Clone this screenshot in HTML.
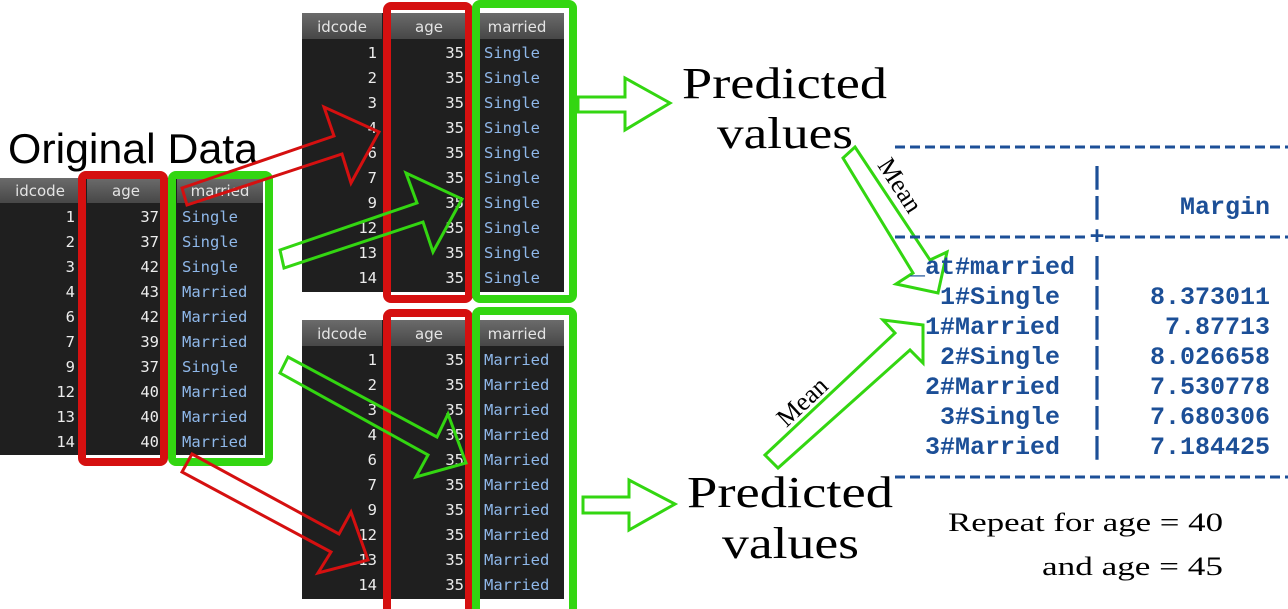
<!DOCTYPE html>
<html><head><meta charset="utf-8"><style>
html,body{margin:0;padding:0;background:#fff;}
svg{display:block;}
.h{font-family:"DejaVu Sans","Liberation Sans",sans-serif;font-size:15px;fill:#e4e4e4;text-anchor:middle;}
.n{font-family:"DejaVu Sans Mono","Liberation Mono",monospace;font-size:15.5px;fill:#ececec;text-anchor:end;}
.s{font-family:"DejaVu Sans Mono","Liberation Mono",monospace;font-size:15.5px;fill:#8fb8ea;}
.st{font-family:"Liberation Mono",monospace;font-weight:bold;font-size:25px;fill:#1c4f97;}
.sr{font-family:"Liberation Serif",serif;fill:#000;}
</style></head><body>
<svg width="1288" height="609" viewBox="0 0 1288 609" xmlns="http://www.w3.org/2000/svg">
<defs>
<linearGradient id="hg" x1="0" y1="0" x2="0" y2="1"><stop offset="0" stop-color="#6b6b6b"/><stop offset="1" stop-color="#474747"/></linearGradient>
</defs>

<!-- Original table -->
<rect x="0" y="178" width="263" height="277" fill="#1f1f1f"/>
<rect x="0" y="178" width="83" height="25" fill="url(#hg)"/>
<rect x="87" y="178" width="78" height="25" fill="url(#hg)"/>
<rect x="177" y="178" width="86" height="25" fill="url(#hg)"/>
<text class="h" x="40" y="196">idcode</text><text class="h" x="126" y="196">age</text><text class="h" x="220" y="196">married</text>
<g>
<text class="n" x="75" y="222">1</text><text class="n" x="159" y="222">37</text><text class="s" x="182" y="222">Single</text>
<text class="n" x="75" y="247">2</text><text class="n" x="159" y="247">37</text><text class="s" x="182" y="247">Single</text>
<text class="n" x="75" y="272">3</text><text class="n" x="159" y="272">42</text><text class="s" x="182" y="272">Single</text>
<text class="n" x="75" y="297">4</text><text class="n" x="159" y="297">43</text><text class="s" x="182" y="297">Married</text>
<text class="n" x="75" y="322">6</text><text class="n" x="159" y="322">42</text><text class="s" x="182" y="322">Married</text>
<text class="n" x="75" y="347">7</text><text class="n" x="159" y="347">39</text><text class="s" x="182" y="347">Married</text>
<text class="n" x="75" y="372">9</text><text class="n" x="159" y="372">37</text><text class="s" x="182" y="372">Single</text>
<text class="n" x="75" y="397">12</text><text class="n" x="159" y="397">40</text><text class="s" x="182" y="397">Married</text>
<text class="n" x="75" y="422">13</text><text class="n" x="159" y="422">40</text><text class="s" x="182" y="422">Married</text>
<text class="n" x="75" y="447">14</text><text class="n" x="159" y="447">40</text><text class="s" x="182" y="447">Married</text>
</g>
<rect x="82" y="175" width="82" height="287" rx="4" fill="none" stroke="#d51010" stroke-width="8"/>
<rect x="172" y="175" width="97" height="287" rx="4" fill="none" stroke="#33d611" stroke-width="8"/>

<!-- Top table -->
<rect x="302" y="13" width="262" height="279" fill="#1f1f1f"/>
<rect x="302" y="13" width="80" height="26" fill="url(#hg)"/>
<rect x="391" y="13" width="76" height="26" fill="url(#hg)"/>
<rect x="480" y="13" width="84" height="26" fill="url(#hg)"/>
<text class="h" x="342" y="32">idcode</text><text class="h" x="429" y="32">age</text><text class="h" x="517" y="32">married</text>
<g>
<text class="n" x="377" y="58">1</text><text class="n" x="464" y="58">35</text><text class="s" x="484" y="58">Single</text>
<text class="n" x="377" y="83">2</text><text class="n" x="464" y="83">35</text><text class="s" x="484" y="83">Single</text>
<text class="n" x="377" y="108">3</text><text class="n" x="464" y="108">35</text><text class="s" x="484" y="108">Single</text>
<text class="n" x="377" y="133">4</text><text class="n" x="464" y="133">35</text><text class="s" x="484" y="133">Single</text>
<text class="n" x="377" y="158">6</text><text class="n" x="464" y="158">35</text><text class="s" x="484" y="158">Single</text>
<text class="n" x="377" y="183">7</text><text class="n" x="464" y="183">35</text><text class="s" x="484" y="183">Single</text>
<text class="n" x="377" y="208">9</text><text class="n" x="464" y="208">35</text><text class="s" x="484" y="208">Single</text>
<text class="n" x="377" y="233">12</text><text class="n" x="464" y="233">35</text><text class="s" x="484" y="233">Single</text>
<text class="n" x="377" y="258">13</text><text class="n" x="464" y="258">35</text><text class="s" x="484" y="258">Single</text>
<text class="n" x="377" y="283">14</text><text class="n" x="464" y="283">35</text><text class="s" x="484" y="283">Single</text>
</g>
<rect x="387" y="6" width="82" height="293" rx="4" fill="none" stroke="#d51010" stroke-width="8"/>
<rect x="476" y="4" width="97" height="295" rx="4" fill="none" stroke="#33d611" stroke-width="8"/>

<!-- Bottom table -->
<rect x="302" y="320" width="262" height="279" fill="#1f1f1f"/>
<rect x="302" y="320" width="80" height="26" fill="url(#hg)"/>
<rect x="391" y="320" width="76" height="26" fill="url(#hg)"/>
<rect x="480" y="320" width="84" height="26" fill="url(#hg)"/>
<text class="h" x="342" y="339">idcode</text><text class="h" x="429" y="339">age</text><text class="h" x="517" y="339">married</text>
<g>
<text class="n" x="377" y="365">1</text><text class="n" x="464" y="365">35</text><text class="s" x="484" y="365">Married</text>
<text class="n" x="377" y="390">2</text><text class="n" x="464" y="390">35</text><text class="s" x="484" y="390">Married</text>
<text class="n" x="377" y="415">3</text><text class="n" x="464" y="415">35</text><text class="s" x="484" y="415">Married</text>
<text class="n" x="377" y="440">4</text><text class="n" x="464" y="440">35</text><text class="s" x="484" y="440">Married</text>
<text class="n" x="377" y="465">6</text><text class="n" x="464" y="465">35</text><text class="s" x="484" y="465">Married</text>
<text class="n" x="377" y="490">7</text><text class="n" x="464" y="490">35</text><text class="s" x="484" y="490">Married</text>
<text class="n" x="377" y="515">9</text><text class="n" x="464" y="515">35</text><text class="s" x="484" y="515">Married</text>
<text class="n" x="377" y="540">12</text><text class="n" x="464" y="540">35</text><text class="s" x="484" y="540">Married</text>
<text class="n" x="377" y="565">13</text><text class="n" x="464" y="565">35</text><text class="s" x="484" y="565">Married</text>
<text class="n" x="377" y="590">14</text><text class="n" x="464" y="590">35</text><text class="s" x="484" y="590">Married</text>
</g>
<rect x="387" y="313" width="82" height="300" rx="4" fill="none" stroke="#d51010" stroke-width="8"/>
<rect x="476" y="311" width="97" height="302" rx="4" fill="none" stroke="#33d611" stroke-width="8"/>

<!-- Original Data label -->
<text class="sr" x="8" y="163" style="font-family:'Liberation Sans',sans-serif;font-size:42px" textLength="250" lengthAdjust="spacingAndGlyphs">Original Data</text>

<!-- Block arrows -->
<g fill="none" stroke-width="3" stroke-linejoin="miter">
<polygon stroke="#d51010" points="182,188 334,136 324,107 379,132 351,183 342,154 187,205"/>
<polygon stroke="#33d611" points="280,250 417,203 406,173 462,199 433,252 423,222 284,268"/>
<polygon stroke="#33d611" points="288,357 437,437 448,414 466,463 416,477 428,455 280,373"/>
<polygon stroke="#d51010" points="192,454 339,534 351,512 368,560 318,573 331,552 182,472"/>
<polygon stroke="#33d611" points="578,97 625,97 625,78 670,103 625,130 625,112 578,112"/>
<polygon stroke="#33d611" points="583,497 629,497 629,480 675,504 629,530 629,513 583,513"/>
<polygon stroke="#33d611" points="765,455 895,333 883,320 923,325 923,363 910,350 778,468"/>
<polygon stroke="#33d611" points="855,147 930,260 947,252 938,293 896,284 913,273 843,158"/>
</g>

<!-- Predicted values -->
<text class="sr" x="682" y="98" font-size="44" textLength="205" lengthAdjust="spacingAndGlyphs">Predicted</text>
<text class="sr" x="717" y="148" font-size="44" textLength="136" lengthAdjust="spacingAndGlyphs">values</text>
<text class="sr" x="687" y="507" font-size="44" textLength="206" lengthAdjust="spacingAndGlyphs">Predicted</text>
<text class="sr" x="722" y="558" font-size="44" textLength="137" lengthAdjust="spacingAndGlyphs">values</text>

<!-- Mean labels -->
<text class="sr" font-size="26" text-anchor="middle" transform="translate(808,408) rotate(-43)">Mean</text>
<text class="sr" font-size="26" text-anchor="middle" transform="translate(893,190) rotate(57)">Mean</text>

<!-- Stata table -->
<g stroke="#1c4f97" stroke-width="3" stroke-dasharray="10,5">
<line x1="895" y1="147" x2="1288" y2="147"/>
<line x1="895" y1="237" x2="1090" y2="237"/>
<line x1="1105" y1="237" x2="1288" y2="237"/>
<line x1="895" y1="477" x2="1288" y2="477"/>
</g>
<g class="st">
<text x="1097" y="244" text-anchor="middle">+</text>
<text x="1097" y="184" text-anchor="middle">|</text>
<text x="1097" y="214" text-anchor="middle">|</text>
<text x="1270" y="214" text-anchor="end">Margin</text>
<text x="1075" y="274" text-anchor="end">_at#married</text><text x="1097" y="274" text-anchor="middle">|</text>
<text x="1060" y="304" text-anchor="end">1#Single</text><text x="1097" y="304" text-anchor="middle">|</text><text x="1270" y="304" text-anchor="end">8.373011</text>
<text x="1060" y="334" text-anchor="end">1#Married</text><text x="1097" y="334" text-anchor="middle">|</text><text x="1270" y="334" text-anchor="end">7.87713</text>
<text x="1060" y="364" text-anchor="end">2#Single</text><text x="1097" y="364" text-anchor="middle">|</text><text x="1270" y="364" text-anchor="end">8.026658</text>
<text x="1060" y="394" text-anchor="end">2#Married</text><text x="1097" y="394" text-anchor="middle">|</text><text x="1270" y="394" text-anchor="end">7.530778</text>
<text x="1060" y="424" text-anchor="end">3#Single</text><text x="1097" y="424" text-anchor="middle">|</text><text x="1270" y="424" text-anchor="end">7.680306</text>
<text x="1060" y="454" text-anchor="end">3#Married</text><text x="1097" y="454" text-anchor="middle">|</text><text x="1270" y="454" text-anchor="end">7.184425</text>
</g>

<!-- Repeat text -->
<text class="sr" x="948" y="531" font-size="26" textLength="275" lengthAdjust="spacingAndGlyphs">Repeat for age = 40</text>
<text class="sr" x="1042" y="575" font-size="26" textLength="181" lengthAdjust="spacingAndGlyphs">and age = 45</text>
</svg>
</body></html>
